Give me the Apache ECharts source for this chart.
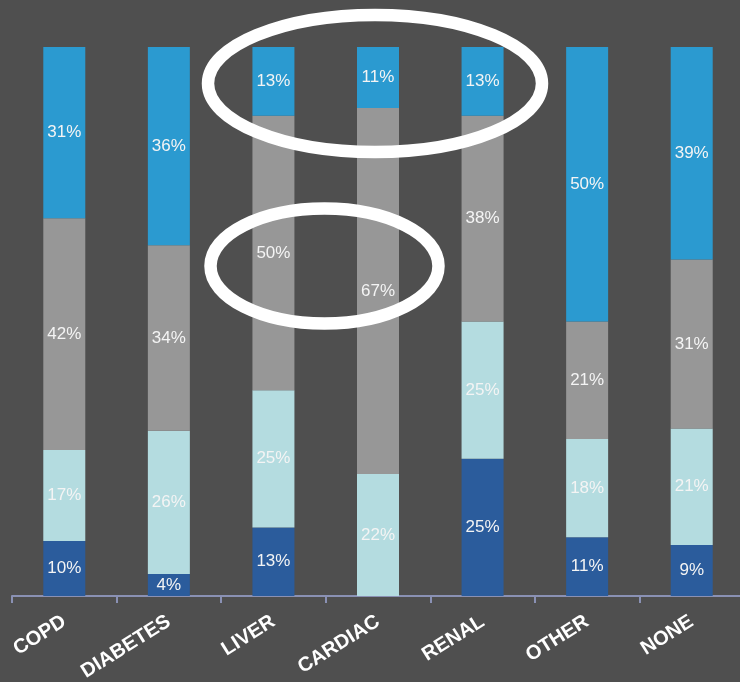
<!DOCTYPE html>
<html>
<head>
<meta charset="utf-8">
<script src="https://cdn.jsdelivr.net/npm/echarts@6/dist/echarts.min.js"></script>
<style>
html,body{margin:0;padding:0;background:#4f4f4f;}
#c{width:740px;height:682px;}
</style>
</head>
<body>
<div id="c"></div>
<script>
var categories = ['COPD', 'DIABETES', 'LIVER', 'CARDIAC', 'RENAL', 'OTHER', 'NONE'];
var seriesDarkBlue  = [10.0, 4.0, 12.5, 0, 25.0, 10.7, 9.3];
var seriesLightBlue = [16.6, 26.1, 25.0, 22.2, 25.0, 17.9, 21.2];
var seriesGray      = [42.2, 33.8, 50.0, 66.7, 37.5, 21.4, 30.8];
var seriesBlue      = [31.2, 36.1, 12.5, 11.1, 12.5, 50.0, 38.7];

var colors = ['#2b5c9c', '#b4dce0', '#979797', '#2b9ad0'];
var chart = echarts.init(document.getElementById('c'));

function mk(data, color) {
  return {
    type: 'bar', stack: 'total', data: data, barWidth: 42,
    itemStyle: { color: color },
    label: {
      show: true, position: 'inside', color: '#f4f4f4',
      fontFamily: 'Liberation Sans, Arial, sans-serif', fontSize: 17,
      formatter: function (p) { return p.value > 0 ? Math.round(p.value) + '%' : ''; }
    }
  };
}

chart.setOption({
  backgroundColor: '#4f4f4f',
  animation: false,
  grid: { left: 12, top: 47, width: 732, height: 549, containLabel: false, outerBoundsMode: 'none' },
  xAxis: {
    type: 'category', data: categories,
    axisLine: { lineStyle: { color: '#8a91b4', width: 2 } },
    axisTick: { show: true, length: 7, lineStyle: { color: '#8a91b4', width: 2 } },
    axisLabel: {
      color: '#ffffff', fontWeight: 'bold', fontSize: 20, rotate: 32, margin: 24,
      fontFamily: 'Liberation Sans, Arial, sans-serif', interval: 0
    }
  },
  yAxis: { type: 'value', min: 0, max: 100, show: false, splitLine: { show: false } },
  series: [
    mk(seriesDarkBlue, colors[0]),
    mk(seriesLightBlue, colors[1]),
    mk(seriesGray, colors[2]),
    mk(seriesBlue, colors[3])
  ],
  graphic: [
    { type: 'ellipse', shape: { cx: 375, cy: 83.5, rx: 167, ry: 68.5 },
      style: { fill: 'none', stroke: '#ffffff', lineWidth: 12.5 }, z: 100 },
    { type: 'ellipse', shape: { cx: 324.5, cy: 266, rx: 114, ry: 57.5 },
      style: { fill: 'none', stroke: '#ffffff', lineWidth: 12.5 }, z: 100 }
  ]
});
</script>
</body>
</html>
